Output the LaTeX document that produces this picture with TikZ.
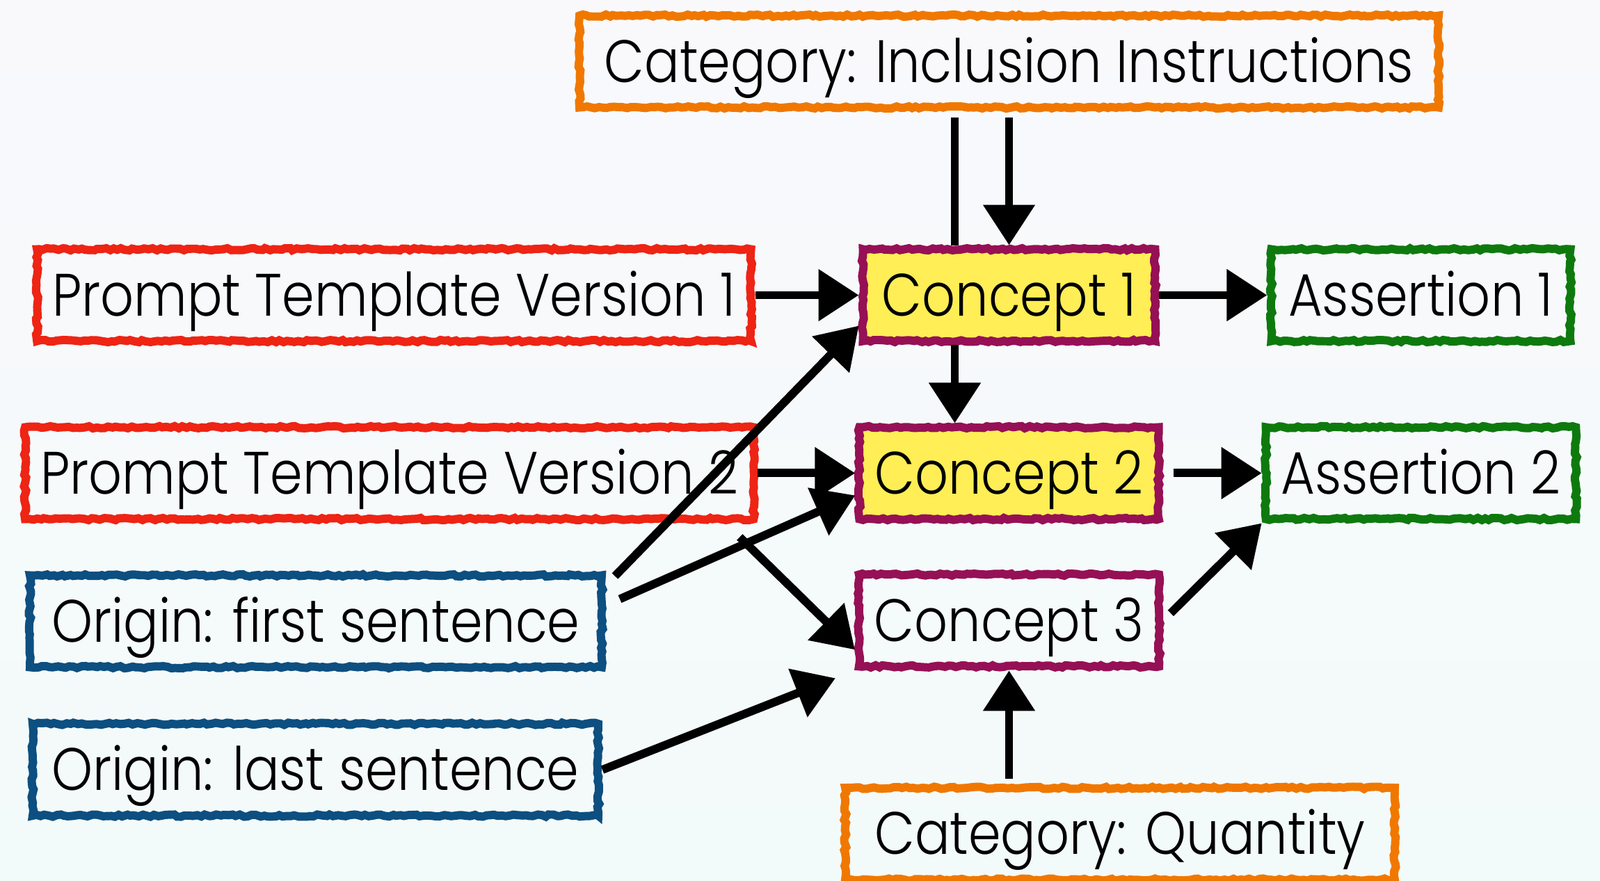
\documentclass[tikz,border=0pt]{standalone}
\usepackage{fontspec}
\IfFontExistsTF{Poppins Light}
  {\setmainfont{Poppins Light}[FakeStretch=0.87]}
  {\setmainfont{Poppins}[FakeStretch=0.87]}
\usepackage{xcolor}
\usepackage{tikz}
\usetikzlibrary{arrows.meta,positioning,calc,decorations.pathmorphing}
\definecolor{bgtop}{HTML}{F9F9FC}
\definecolor{bgbot}{HTML}{F3FAFA}
\definecolor{catorange}{HTML}{F07800}
\definecolor{tmplred}{HTML}{EE2414}
\definecolor{conceptpurple}{HTML}{961055}
\definecolor{conceptyellow}{HTML}{FFEE55}
\definecolor{assertgreen}{HTML}{0E7A0E}
\definecolor{originblue}{HTML}{0C4F80}

\begin{document}
\begin{tikzpicture}[
    >={Triangle[length=0.58cm, width=0.72cm]},
    node distance=1.2cm and 1.6cm,
    box/.style={rectangle, line width=3.4pt, inner xsep=0.22cm, minimum height=1.32cm,
        text height=17pt, text depth=0pt,
        font=\fontsize{24.5pt}{29pt}\selectfont,
        decorate, decoration={random steps, segment length=1.6pt, amplitude=0.45pt}},
    cat/.style={box, draw=catorange},
    tmpl/.style={box, draw=tmplred},
    concept/.style={box, draw=conceptpurple, minimum width=4.3cm},
    hot/.style={fill=conceptyellow},
    assert/.style={box, draw=assertgreen, minimum width=4.3cm},
    origin/.style={box, draw=originblue},
    link/.style={line width=3.4pt, black}
]
% background
\shade[top color=bgtop, bottom color=bgbot] (0,0) rectangle (23,12.67);
\useasboundingbox (0,0) rectangle (23,12.67);

% middle column
\node[concept, hot, minimum width=4.2cm] (c1) at (14.505,8.425) {Concept 1};
\node[concept, hot, below=1.12cm of c1] (c2) {Concept 2};
\node[concept, below=0.68cm of c2] (c3) {Concept 3};

% assertions
\node[assert, right=1.55cm of c1] (as1) {Assertion 1};
\node[assert, right=1.42cm of c2, minimum width=4.45cm] (as2) {Assertion 2};

% templates and origins
\node[tmpl, left=1.49cm of c1] (ptv1) {Prompt Template Version 1};
\node[tmpl, left=1.40cm of c2] (ptv2) {Prompt Template Version 2};
\node[origin, minimum width=8.22cm] (ofirst) at (4.54,3.735) {Origin: first sentence};
\node[origin, minimum width=8.13cm] (olast) at (4.535,1.60) {Origin: last sentence};

% categories
\node[cat, above=1.92cm of c1, minimum width=12.35cm] (catinc) {Category: Inclusion Instructions};
\node[cat, minimum width=7.9cm] (catq) at (16.10,0.68) {Category: Quantity};

% links
\draw[link, shorten <=0.08cm] ([xshift=-0.78cm]c1.north |- catinc.south) -- ([xshift=-0.78cm]c1.north);
\draw[link, ->, shorten <=0.08cm] (c1.north |- catinc.south) -- (c1.north);
\draw[link, ->] (ptv1.east) -- (c1.west);
\draw[link, ->] (c1.east) -- (as1.west);
\draw[link, ->] ([xshift=-0.78cm]c1.south) -- ([xshift=-0.78cm]c1.south |- c2.north);
\draw[link, ->] (ptv2.east) -- (c2.west);
\draw[link, ->, shorten <=0.15cm] (c2.east) -- (as2.west);
\draw[link, ->] ([shift={(0.13,-0.07)}]ofirst.north east) -- ([yshift=0.28cm]c1.south west);
\draw[link, ->] ([shift={(0.2,-0.4)}]ofirst.north east) -- ([yshift=0.4cm]c2.south west);
\draw[link, ->] ([shift={(-0.26,-0.2)}]ptv2.south east) -- ([yshift=0.3cm]c3.south west);
\draw[link, ->, shorten >=0.3cm] (olast.east) -- (c3.south west);
\draw[link, ->, shorten <=0.15cm] (c3.east) -- (as2.south west);
\draw[link, ->, shorten <=0.07cm] (c3.south |- catq.north) -- (c3.south);
\end{tikzpicture}
\end{document}
